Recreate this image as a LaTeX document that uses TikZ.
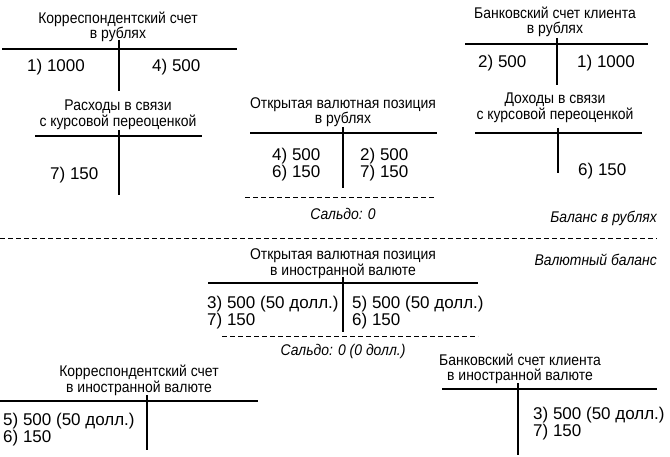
\documentclass[tikz,border=0pt]{standalone}
\usepackage{fontspec}
\setmainfont{Liberation Sans}
\newfontfamily\tnarrow[FakeStretch=0.9]{Liberation Sans}
\tikzset{
  tacc/.style={x=1pt, y=1pt, font=\tnarrow\fontsize{15.5}{14.5}\selectfont},
  t title/.style={align=center, inner sep=0pt},
  t entry/.style={align=left, anchor=west, inner sep=0pt,
                  font=\rmfamily\fontsize{17}{15.5}\selectfont},
  t rule/.style={line width=1.1pt},
  t sum/.style={dash pattern=on 5pt off 3pt, line width=0.9pt},
  t note/.style={font=\tnarrow\fontsize{15.5}{14}\selectfont\itshape, inner sep=0pt},
}
% T-account frame: left, right, rule y, stem x, stem top, stem bottom
\newcommand{\tframe}[6]{%
  \draw[t rule] (#1,#3) -- (#2,#3);
  \draw[t rule] (#4,#5) -- (#4,#6);}

\begin{document}
\begin{tikzpicture}[tacc]
\useasboundingbox (0,0) rectangle (670,-457);
% ---- Rouble balance ----
\node[t title] (corrub) at (118,-27) {Корреспондентский счет\\в рублях};
\tframe{2}{237}{-49}{119}{-40}{-91}
\node[t entry] (corrubl) at (27,-67) {1) 1000};
\node[t entry] (corrubr) at (152,-67) {4) 500};
\node[t title] (exp) at (118,-115) {Расходы в связи\\с курсовой переоценкой};
\tframe{35}{202}{-136}{119}{-130}{-195}
\node[t entry] (expl) at (50,-175) {7) 150};
\node[t title] (posrub) at (343,-112) {Открытая валютная позиция\\в рублях};
\tframe{250}{437}{-133}{343}{-127}{-188}
\node[t entry] (posrubl) at (272,-164.5) {4) 500\\6) 150};
\node[t entry] (posrubr) at (360,-164.5) {2) 500\\7) 150};
\draw[t sum] (245,-197) -- (435,-197);
\node[t note] (salrub) at (343,-214) {Сальдо: 0};
\node[t title] (clirub) at (555,-22) {Банковский счет клиента\\в рублях};
\tframe{465}{648}{-44}{557}{-38}{-85}
\node[t entry] (clirubl) at (478,-63) {2) 500};
\node[t entry] (clirubr) at (577,-63) {1) 1000};
\node[t title] (inc) at (555,-108) {Доходы в связи\\с курсовой переоценкой};
\tframe{475}{642}{-133}{558}{-128}{-173}
\node[t entry] (incr) at (578,-171) {6) 150};
% ---- divider ----
\node[t note, anchor=east] (balrub) at (657,-218) {Баланс в рублях};
\draw[t sum] (0,-238) -- (657,-238);
\node[t note, anchor=east] (balfx) at (657,-260) {Валютный баланс};
% ---- Currency balance ----
\node[t title] (posfx) at (343,-264) {Открытая валютная позиция\\в иностранной валюте};
\tframe{208}{478}{-283}{343}{-277}{-332}
\node[t entry] (posfxl) at (207,-312.5) {3) 500 (50 долл.)\\7) 150};
\node[t entry] (posfxr) at (352,-312.5) {5) 500 (50 долл.)\\6) 150};
\draw[t sum] (222,-336) -- (478,-336);
\node[t note] (salfx) at (343,-351) {Сальдо: 0 (0 долл.)};
\node[t title] (corfx) at (139,-380) {Корреспондентский счет\\в иностранной валюте};
\tframe{0}{258}{-401}{147}{-395}{-450}
\node[t entry] (corfxl) at (3,-430) {5) 500 (50 долл.)\\6) 150};
\node[t title] (clifx) at (520,-369) {Банковский счет клиента\\в иностранной валюте};
\tframe{442}{657}{-389}{518}{-383}{-455}
\node[t entry] (clifxr) at (533,-423.5) {3) 500 (50 долл.)\\7) 150};
\end{tikzpicture}
\end{document}
